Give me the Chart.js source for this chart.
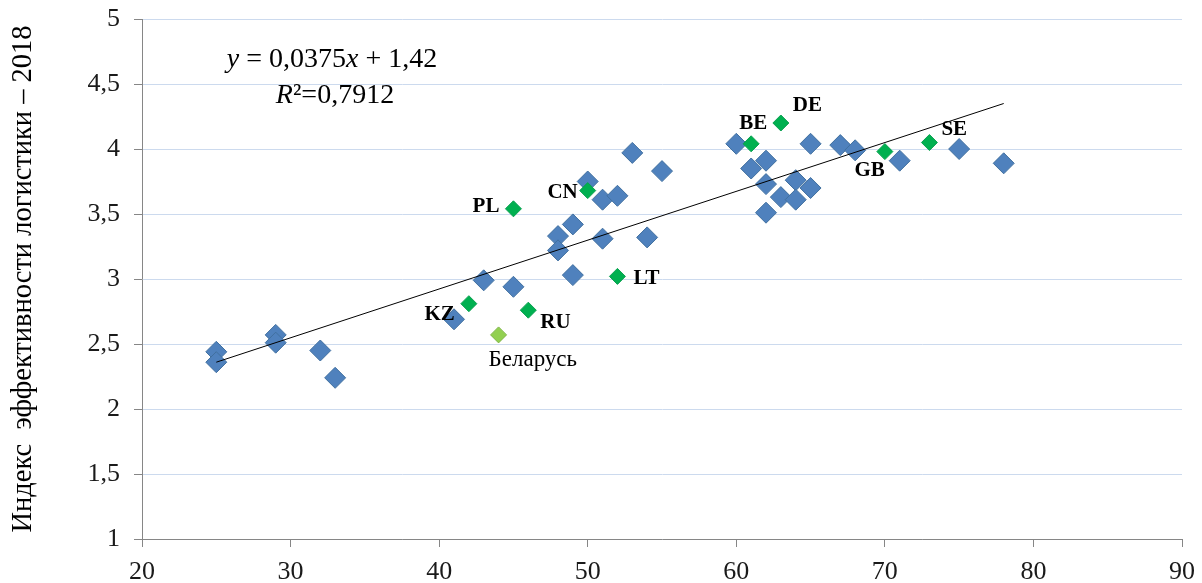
<!DOCTYPE html>
<html lang="ru">
<head>
<meta charset="utf-8">
<title>Индекс эффективности логистики – 2018</title>
<script src="https://cdn.jsdelivr.net/npm/chart.js@4.4.1/dist/chart.umd.min.js"></script>
<style>
  html, body { margin: 0; padding: 0; background: #fff; }
  #wrap { width: 1202px; height: 583px; }
</style>
</head>
<body>
<div id="wrap"><canvas id="chart" width="1202" height="583"></canvas></div>
<script>
/* ---------- data ---------- */

// all other countries (blue diamonds)
const otherX = [25, 25, 29, 29, 32, 33, 41, 43, 45, 48, 48, 49, 49, 50, 51, 51, 52, 53, 54, 55,
                60, 61, 62, 62, 62, 63, 64, 64, 65, 65, 67, 68, 71, 75, 78];
const otherY = [2.44, 2.36, 2.57, 2.51, 2.45, 2.24, 2.69, 2.99, 2.94, 3.33, 3.22, 3.42, 3.03, 3.75, 3.61, 3.31, 3.64, 3.97, 3.32, 3.83,
                4.04, 3.85, 3.91, 3.73, 3.51, 3.63, 3.76, 3.61, 4.04, 3.70, 4.03, 3.99, 3.91, 4.00, 3.89];

// highlighted countries (green diamonds)
const codes  = ['PL', 'CN', 'LT', 'KZ', 'RU', 'BE', 'DE', 'GB', 'SE'];
const codesX = [45, 50, 52, 42, 46, 61, 63, 70, 73];
const codesY = [3.54, 3.68, 3.02, 2.81, 2.76, 4.04, 4.20, 3.98, 4.05];

// Беларусь (light green)
const belarusLabel = 'Беларусь';
const belarusX = [44];
const belarusY = [2.57];

// linear trend, drawn between the outermost x values
const trendX = [25, 78];
const trendY = [2.36, 4.35];

const equationText = ['y', ' = 0,0375', 'x', ' + 1,42'];
const r2Text = ['R', '²=0,7912'];
const yTitle = 'Индекс  эффективности логистики – 2018';

const xTicks = { min: 20, max: 90, step: 10 };
const yTicks = { min: 1, max: 5, step: 0.5 };

/* ---------- styling ---------- */

const SERIF = '"Liberation Serif", "Times New Roman", serif';
const INK = '#1a1a1a';
const AXIS = '#868686';
const GRID = '#CCDAEE';

const pts = (xs, ys) => xs.map((x, i) => ({ x, y: ys[i] }));

// label placement around each green point: [dx, dy(baseline), align]
const labelPos = {
  PL: [-14, 3, 'right'],
  CN: [-10, 7, 'right'],
  LT: [16, 8, 'left'],
  KZ: [-14, 16, 'right'],
  RU: [12, 18, 'left'],
  BE: [2, -15, 'center'],
  DE: [12, -12, 'left'],
  GB: [0, 24, 'right'],
  SE: [12, -8, 'left'],
};

/** Draws country codes next to the green points, and the Беларусь label. */
const pointLabels = {
  id: 'pointLabels',
  afterDatasetsDraw(chart) {
    const { ctx } = chart;
    ctx.save();
    ctx.fillStyle = '#000';
    ctx.textBaseline = 'alphabetic';
    ctx.font = `bold 21px ${SERIF}`;
    chart.getDatasetMeta(1).data.forEach((pt, i) => {
      const [dx, dy, align] = labelPos[codes[i]];
      ctx.textAlign = align;
      ctx.fillText(codes[i], pt.x + dx, pt.y + dy);
    });
    ctx.font = `23px ${SERIF}`;
    ctx.textAlign = 'left';
    const b = chart.getDatasetMeta(2).data[0];
    ctx.fillText(belarusLabel, b.x - 10, b.y + 31);
    ctx.restore();
  },
};

/** Trend equation and R², with italic variables. */
function drawRich(ctx, parts, cx, y) {
  const fonts = parts.map((_, i) => (i % 2 === 0 ? `italic 28px ${SERIF}` : `28px ${SERIF}`));
  let w = 0;
  parts.forEach((p, i) => { ctx.font = fonts[i]; w += ctx.measureText(p).width; });
  let x = cx - w / 2;
  parts.forEach((p, i) => {
    ctx.font = fonts[i];
    ctx.fillText(p, x, y);
    x += ctx.measureText(p).width;
  });
}

const equation = {
  id: 'equation',
  afterDraw(chart) {
    const { ctx, chartArea } = chart;
    ctx.save();
    ctx.fillStyle = '#000';
    ctx.textAlign = 'left';
    ctx.textBaseline = 'alphabetic';
    drawRich(ctx, equationText, chartArea.left + 190, chartArea.top + 48);
    drawRich(ctx, r2Text, chartArea.left + 193, chartArea.top + 84);
    ctx.restore();
  },
};

Chart.defaults.font.family = SERIF;
Chart.defaults.color = INK;

new Chart(document.getElementById('chart'), {
  type: 'scatter',
  data: {
    datasets: [
      {
        label: 'trend',
        type: 'line',
        data: pts(trendX, trendY),
        borderColor: '#000',
        borderWidth: 1,
        pointRadius: 0,
        fill: false,
        order: 1,
      },
      {
        label: 'codes',
        data: pts(codesX, codesY),
        pointStyle: 'rectRot',
        pointRadius: 8,
        backgroundColor: '#00B050',
        borderColor: '#0AA050',
        borderWidth: 1,
        order: 0,
      },
      {
        label: belarusLabel,
        data: pts(belarusX, belarusY),
        pointStyle: 'rectRot',
        pointRadius: 8,
        backgroundColor: '#92D050',
        borderColor: '#7FB548',
        borderWidth: 1,
        order: 0,
      },
      {
        label: 'others',
        data: pts(otherX, otherY),
        pointStyle: 'rectRot',
        pointRadius: 10.5,
        backgroundColor: '#4F81BD',
        borderColor: '#41709F',
        borderWidth: 1,
        order: 2,
      },
    ],
  },
  options: {
    responsive: false,
    animation: false,
    layout: { padding: { top: 19, right: 20, left: 0, bottom: 0 } },
    plugins: { legend: { display: false }, tooltip: { enabled: false } },
    scales: {
      x: {
        type: 'linear',
        min: xTicks.min,
        max: xTicks.max,
        ticks: { stepSize: xTicks.step, padding: 10, color: INK, font: { size: 26 } },
        grid: { drawOnChartArea: false, tickLength: 8, tickColor: AXIS },
        border: { color: AXIS },
        afterFit(scale) {
          scale.height = 44;
          scale.paddingLeft = 0;
          scale.paddingRight = 0;
        },
      },
      y: {
        min: yTicks.min,
        max: yTicks.max,
        ticks: {
          stepSize: yTicks.step,
          padding: 14,
          color: INK,
          font: { size: 26 },
          callback: (v) => String(v).replace('.', ','),
        },
        grid: { color: GRID, tickLength: 8, tickColor: AXIS },
        border: { color: AXIS },
        title: {
          display: true,
          text: yTitle,
          color: '#000',
          font: { size: 28.5 },
          padding: { top: 6, bottom: 0 },
        },
        afterFit(scale) {
          scale.width = 142;
          // the plot edges are set by layout padding alone
          scale.paddingTop = 0;
          scale.paddingBottom = 0;
        },
      },
    },
  },
  plugins: [pointLabels, equation],
});
</script>
</body>
</html>
